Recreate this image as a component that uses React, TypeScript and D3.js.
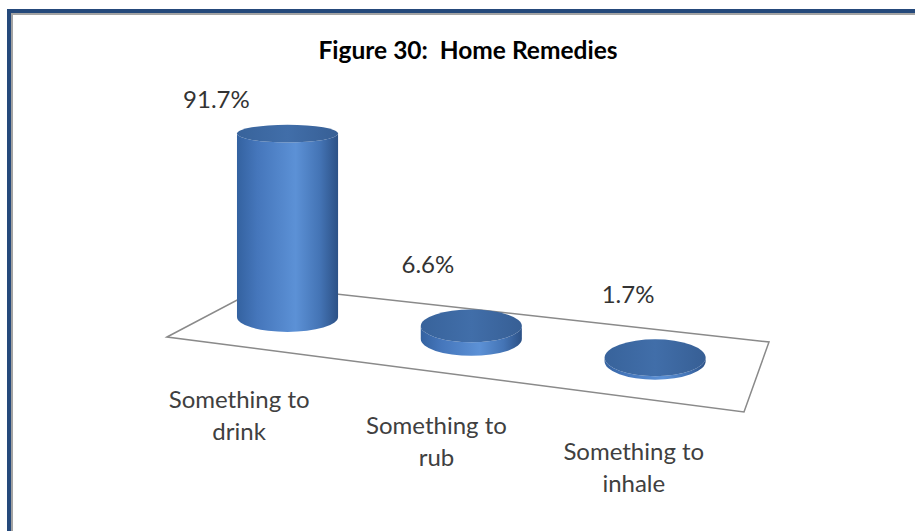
import React from 'react'
import * as d3 from 'd3'

// chart values
const title = 'Figure 30:  Home Remedies'
const categories = ['Something to drink', 'Something to rub', 'Something to inhale']
const values = [91.7, 6.6, 1.7]

const W = 915
const H = 531

// floor corners of the 3d plot area (front-left, back-left, back-right, front-right)
const FL: [number, number] = [167, 337]
const BL: [number, number] = [264, 286]
const BR: [number, number] = [769, 342]
const FR: [number, number] = [744, 412]

const lerp = (a: [number, number], b: [number, number], t: number): [number, number] =>
  [a[0] + (b[0] - a[0]) * t, a[1] + (b[1] - a[1]) * t]

// bilinear map, u along categories, v = depth (0 front, 1 back)
function floorPt(u: number, v: number): [number, number] {
  return lerp(lerp(FL, FR, u), lerp(BL, BR, u), v)
}

// split label on the last space -> two lines
function wrap(s: string) {
  const i = s.lastIndexOf(' ')
  return [s.slice(0, i), s.slice(i + 1)]
}

export default function App() {
  const x = d3.scaleBand<string>().domain(categories).range([-0.046, 0.98])
  const h = d3.scaleLinear().domain([0, 100]).range([0, 200])
  const fmt = (v: number) => d3.format('.1f')(v) + '%'
  const font = 'Lato, "Open Sans", sans-serif'

  const bars = categories.map((c, i) => {
    const u = x(c)! + x.bandwidth() / 2
    const [cx, by] = floorPt(u, 0.55)
    const left = floorPt(u - x.bandwidth() / 2, 0.55)
    const right = floorPt(u + x.bandwidth() / 2, 0.55)
    const rx = (right[0] - left[0]) * 0.275
    const depth = floorPt(u, 0)[1] - floorPt(u, 1)[1]
    const ryB = depth * 0.28
    const hp = h(values[i])
    const ty = by - hp
    const ryT = ryB * (1 - 0.0022 * hp)
    const side =
      `M${cx - rx},${ty} L${cx - rx},${by} ` +
      `A${rx},${ryB} 0 0 0 ${cx + rx},${by} ` +
      `L${cx + rx},${ty} ` +
      `A${rx},${ryT} 0 0 1 ${cx - rx},${ty} Z`
    const front = floorPt(u, 0)
    return {
      c, u, cx, by, ty, rx, ryT, side, hp, front,
      lx: cx + (-64 + 46 * u - 0.07 * hp),
      ly: ty - (55 - 0.16 * hp),
      v: values[i],
    }
  })

  const floor = [FL, BL, BR, FR].map(p => p.join(',')).join(' ')

  return (
    <svg width={W} height={H} viewBox={`0 0 ${W} ${H}`}
      style={{ position: 'absolute', left: 0, top: 0, background: '#fff' }}>
      <defs>
        <linearGradient id="cylSide" x1="0" x2="1" y1="0" y2="0">
          <stop offset="0" stopColor="#3462a0" />
          <stop offset="0.2" stopColor="#4576bb" />
          <stop offset="0.58" stopColor="#5c91d6" />
          <stop offset="0.82" stopColor="#4474b5" />
          <stop offset="1" stopColor="#2c5186" />
        </linearGradient>
        <linearGradient id="cylTop" x1="0" x2="1" y1="0" y2="0">
          <stop offset="0" stopColor="#38639b" />
          <stop offset="0.5" stopColor="#416ea9" />
          <stop offset="1" stopColor="#375f95" />
        </linearGradient>
      </defs>

      {/* frame */}
      <rect x={7} y={9} width={4} height={H} fill="#25497b" />
      <rect x={7} y={9} width={W} height={4} fill="#25497b" />
      <rect x={11} y={13} width={2} height={H} fill="#a3a3a3" />
      <rect x={11} y={13} width={W} height={2} fill="#a3a3a3" />

      <text x={468} y={59} textAnchor="middle" fontFamily={font} fontWeight="bold"
        fontSize={24.5} fill="#000" style={{ whiteSpace: 'pre' }}>{title}</text>

      <polygon points={floor} fill="#fff" stroke="#8a8a8a" strokeWidth={1.5} />

      {bars.map(b => (
        <g key={b.c}>
          <path d={b.side} fill="url(#cylSide)" />
          <ellipse cx={b.cx} cy={b.ty} rx={b.rx} ry={b.ryT} fill="url(#cylTop)" />
        </g>
      ))}

      {bars.map(b => (
        <text key={'v' + b.c} x={b.lx} y={b.ly} textAnchor="middle" fontFamily={font}
          fontSize={24} fill="#333">{fmt(b.v)}</text>
      ))}

      {bars.map(b => (
        <text key={'c' + b.c} textAnchor="middle" fontFamily={font} fontSize={24} fill="#404040">
          {wrap(b.c).map((line, j) => (
            <tspan key={j} x={b.front[0]} y={b.front[1] + 62 + j * 32}>{line}</tspan>
          ))}
        </text>
      ))}
    </svg>
  )
}
